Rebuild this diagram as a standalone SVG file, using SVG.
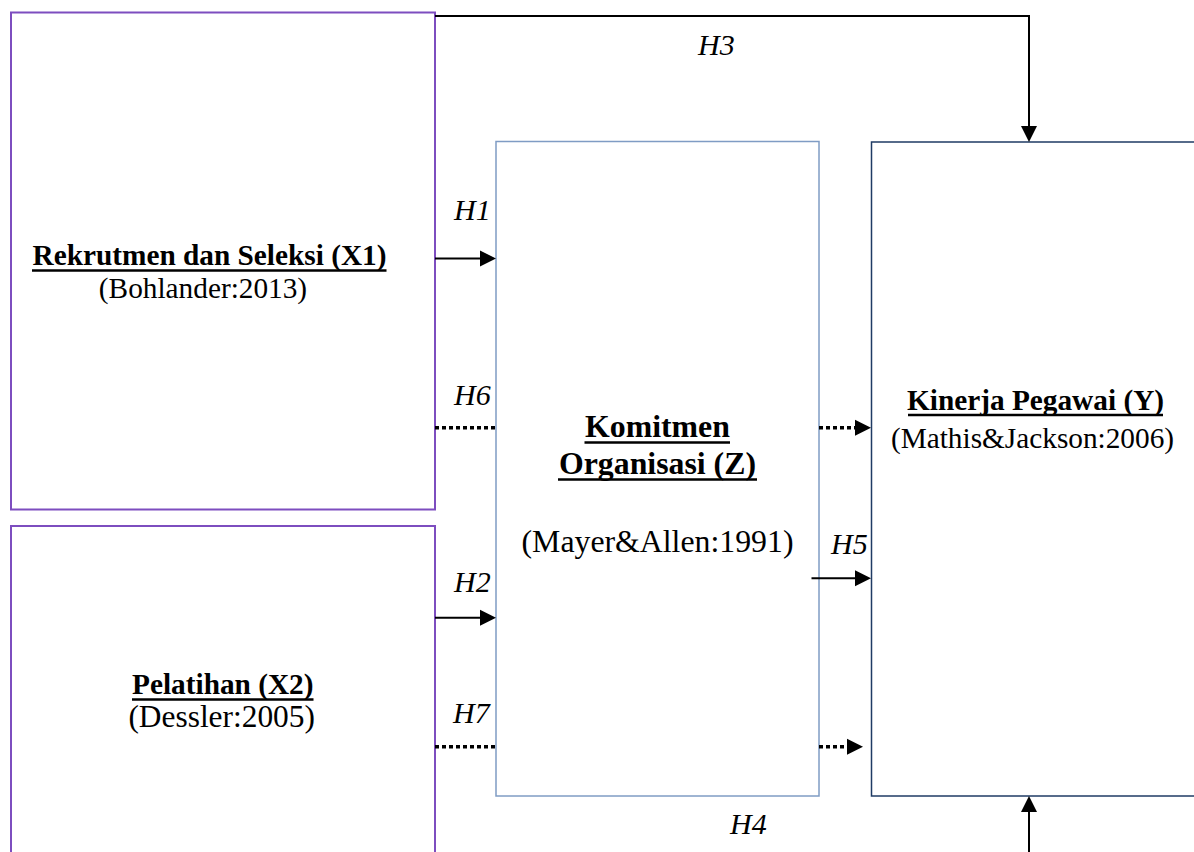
<svg xmlns="http://www.w3.org/2000/svg" width="1194" height="852" viewBox="0 0 1194 852">
<style>
.bx{fill:#fff;}
.px{stroke:#7D4DBF;stroke-width:2;}
.pz{stroke:#7F9CC4;stroke-width:1.5;}
.py{stroke:#1F3B64;stroke-width:1.5;}
text{font-family:"Liberation Serif","Times New Roman",serif;font-size:29.3px;fill:#000;}
.t{font-weight:bold;}
.c{text-anchor:middle;}
.z{font-size:31.8px;}
.lb{font-style:italic;font-size:30px;}
.ul{stroke:#000;stroke-width:2.5;}
.ln{fill:none;stroke:#000;stroke-width:2;}
.dt{fill:none;stroke:#000;stroke-width:3.5;stroke-dasharray:4 3;}
</style>
<defs>
<marker id="ah" markerUnits="userSpaceOnUse" markerWidth="17" markerHeight="17" refX="0" refY="8" orient="auto" overflow="visible">
<path d="M0,0 L16,8 L0,16 z" fill="#000"/>
</marker>
</defs>
<rect width="1194" height="852" fill="#fff"/>
<g id="node-x1">
<rect class="bx px" x="11" y="12.5" width="424" height="497"/>
<text class="t c" x="209.5" y="265">Rekrutmen dan Seleksi (X1)</text>
<line class="ul" x1="32" y1="270.5" x2="386.5" y2="270.5"/>
<text class="c" x="203" y="298">(Bohlander:2013)</text>
</g>
<g id="node-x2">
<rect class="bx px" x="11" y="526" width="424" height="340"/>
<text class="t c" x="222.8" y="693.5">Pelatihan (X2)</text>
<line class="ul" x1="132" y1="699.5" x2="313.5" y2="699.5"/>
<text class="c" x="221.7" y="727" style="font-size:31.4px">(Dessler:2005)</text>
</g>
<g id="node-z">
<rect class="bx pz" x="496" y="141.5" width="323" height="654.5"/>
<text class="t c z" x="657.5" y="437">Komitmen</text>
<line class="ul" x1="584.5" y1="442.5" x2="730" y2="442.5"/>
<text class="t c z" x="657.5" y="474">Organisasi (Z)</text>
<line class="ul" x1="558" y1="479.5" x2="757" y2="479.5"/>
<text class="c z" x="657.5" y="552">(Mayer&amp;Allen:1991)</text>
</g>
<g id="node-y">
<rect class="bx py" x="871.5" y="142" width="340" height="654"/>
<text class="t c" x="1035.5" y="410">Kinerja Pegawai (Y)</text>
<line class="ul" x1="908" y1="415" x2="1163" y2="415"/>
<text class="c" x="1032.5" y="448">(Mathis&amp;Jackson:2006)</text>
</g>
<g id="connectors">
<path class="ln" d="M435,16 H1029 V126" marker-end="url(#ah)"/>
<path class="ln" d="M1029,852 V812" marker-end="url(#ah)"/>
<path class="ln" d="M435,258.5 H480" marker-end="url(#ah)"/>
<path class="ln" d="M435,617.7 H480" marker-end="url(#ah)"/>
<path class="ln" d="M811.5,578.3 H855" marker-end="url(#ah)"/>
<path class="dt" d="M435,427.7 H496"/>
<path class="dt" d="M819,427.7 H855" marker-end="url(#ah)"/>
<path class="dt" d="M435,746.7 H496"/>
<path class="dt" d="M819,746.7 H847" marker-end="url(#ah)"/>
</g>
<g id="labels">
<text class="lb" x="698" y="55">H3</text>
<text class="lb" x="454" y="220">H1</text>
<text class="lb" x="454" y="405">H6</text>
<text class="lb" x="454" y="592">H2</text>
<text class="lb" x="453" y="722.7">H7</text>
<text class="lb" x="831" y="554">H5</text>
<text class="lb" x="730" y="834">H4</text>
</g>
</svg>
